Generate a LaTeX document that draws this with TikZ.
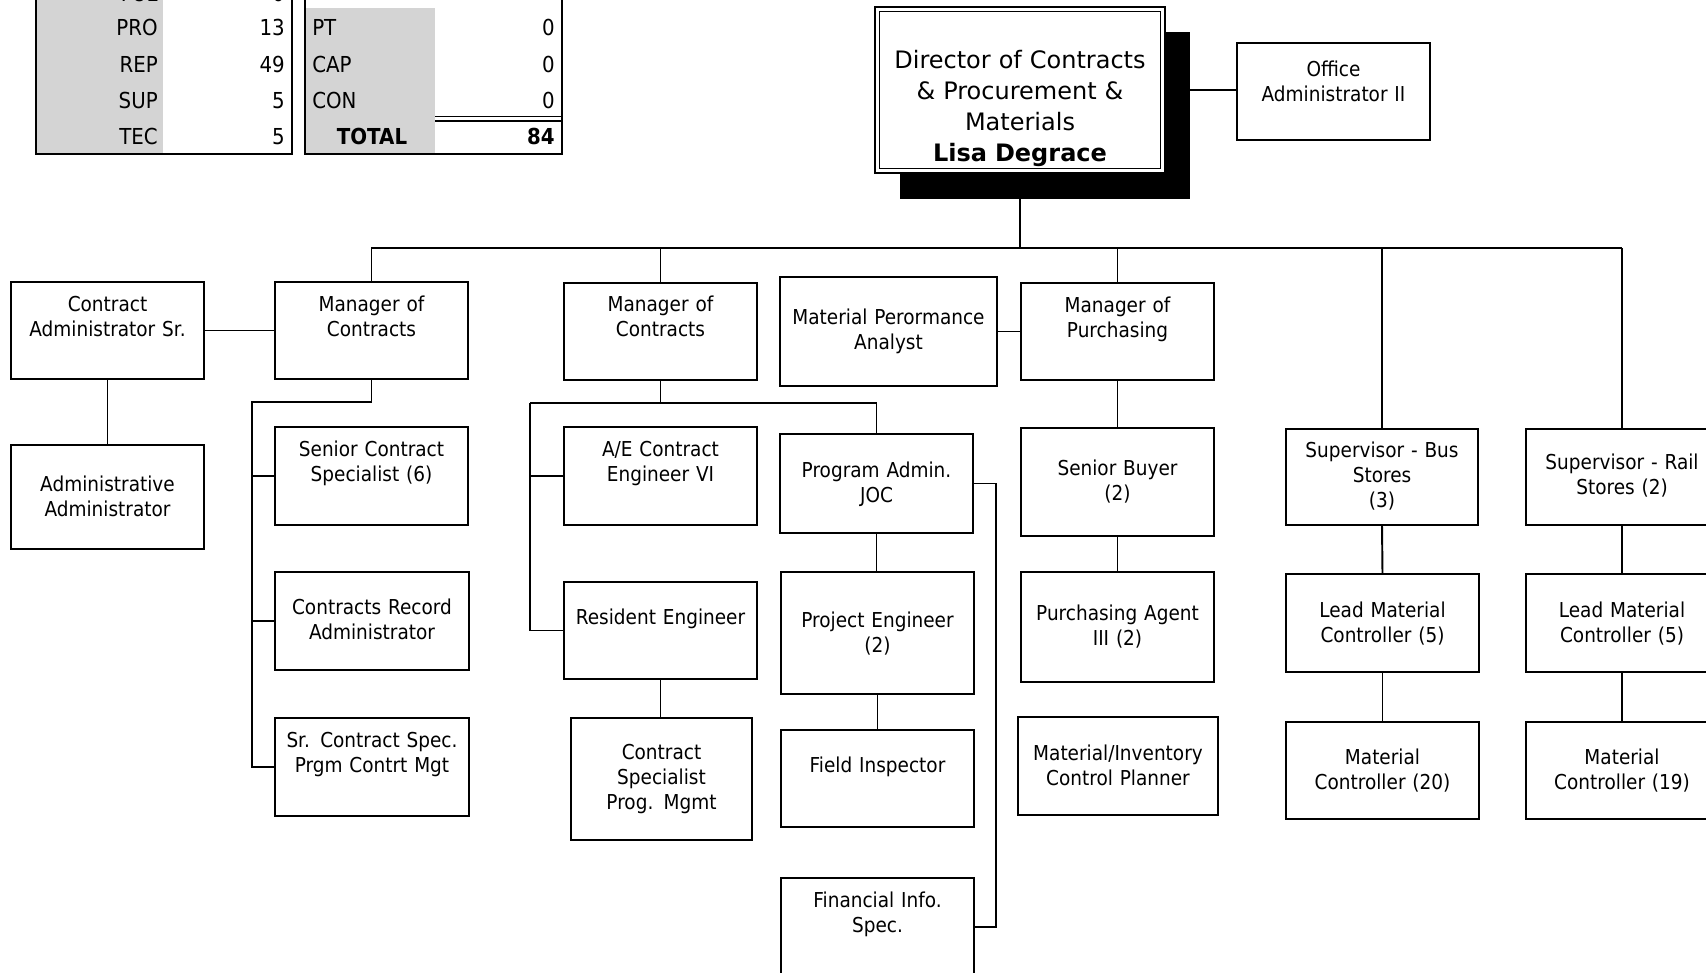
\documentclass[tikz,border=0pt]{standalone}
\usepackage{fontspec}
\setmainfont{DejaVu Sans}
\newfontfamily\boxfont[FakeStretch=0.9]{DejaVu Sans}
\usetikzlibrary{fit}

\tikzset{
  jobbox/.style={draw=black, line width=1.45pt, fill=white, inner sep=0pt, outer sep=0pt},
  joblabel/.style={font={\boxfont\fontsize{15.4pt}{18.75pt}\selectfont}, align=center,
                   text width=200pt, inner sep=0pt, anchor=base},
  wire/.style={draw=black, line width=1.45pt},
  tableframe/.style={draw=black, line width=1.6pt, inner sep=0pt, outer sep=0pt},
  tablecell/.style={fill=black!17, draw=none, inner sep=0pt, outer sep=0pt},
  tabtext/.style={font={\boxfont\fontsize{16.5pt}{20pt}\selectfont}, inner sep=0pt},
  headlabel/.style={font={\fontsize{18pt}{23.25pt}\selectfont}, align=center,
                    text width=210pt, inner sep=0pt, anchor=base},
}

% box from (x1,y1) to (x2,y2) with its label, first line centred at y
\newcommand\orgbox[7]{%
  \node[jobbox, fit={(#2,#3) (#4,#5)}] (#1) {};
  \node[joblabel] (#1-t) at ({(#2+#4)/2},{#6+7}) {#7};
}

\begin{document}
\begin{tikzpicture}[x=0.75pt, y=-0.75pt]
\useasboundingbox (0,0) rectangle (1706,973);
\fill[white] (0,0) rectangle (1706,973);
\clip (0,0) rectangle (1706,973);

% ---------- head-count tables ----------
\node[tablecell, fit={(36,-20) (163,154)}] (lgrey) {};
\node[tableframe, fit={(36,-20) (292,154)}] (ltab) {};
\node[tablecell, fit={(305,8) (435,154)}] (rgrey) {};
\node[tableframe, fit={(305,-20) (562,154)}] (rtab) {};
\draw[line width=1pt] (rgrey.east |- 0,116.5) coordinate (dl1) -- (rtab.east |- dl1);
\draw[line width=1pt] (rgrey.east |- 0,121) coordinate (dl2) -- (rtab.east |- dl2);

\node[tabtext, anchor=base east] (lFUL) at (158,2) {FUL};
\node[tabtext, anchor=base east] (nFUL) at (285,2) {0};
\node[tabtext, anchor=base east] (lPRO) at (158,36) {PRO};
\node[tabtext, anchor=base east] (nPRO) at (285,36) {13};
\node[tabtext, anchor=base east] (lREP) at (158,73) {REP};
\node[tabtext, anchor=base east] (nREP) at (285,73) {49};
\node[tabtext, anchor=base east] (lSUP) at (158,109) {SUP};
\node[tabtext, anchor=base east] (nSUP) at (285,109) {5};
\node[tabtext, anchor=base east] (lTEC) at (158,145) {TEC};
\node[tabtext, anchor=base east] (nTEC) at (285,145) {5};

\node[tabtext, anchor=base west] (lPT) at (312,36) {PT};
\node[tabtext, anchor=base east] (nPT) at (555,36) {0};
\node[tabtext, anchor=base west] (lCAP) at (312,73) {CAP};
\node[tabtext, anchor=base east] (nCAP) at (555,73) {0};
\node[tabtext, anchor=base west] (lCON) at (312,109) {CON};
\node[tabtext, anchor=base east] (nCON) at (555,109) {0};
\node[tabtext, anchor=base] (lTOT) at (372,145) {\bfseries TOTAL};
\node[tabtext, anchor=base east] (nTOT) at (555,145) {\bfseries 84};

% ---------- director ----------
\coordinate (bus) at (371,248);
\coordinate (busend) at (1622,248);
\draw[wire] (1020,173) coordinate (dirfoot) -- (dirfoot |- bus);
\node[fill=black, inner sep=0pt, fit={(900,32) (1190,199)}] (dirshadow) {};
\node[draw=black, line width=1.1pt, fill=white, inner sep=0pt, fit={(875,7) (1165,173)}] (dir) {};
\node[draw=black, line width=1.1pt, inner sep=0pt, fit={(879.5,11.5) (1160.5,168.5)}] (dirinner) {};
\node[headlabel] (dir-t) at (1020,68.5)
  {Director of Contracts\\\& Procurement \&\\Materials\\\textbf{Lisa Degrace}};

\orgbox{office}{1237}{43}{1430}{140}{70}{Office\\Administrator II}

% ---------- first level ----------
\orgbox{cas}{11}{282}{204}{379}{305}{Contract\\Administrator Sr.}
\orgbox{adm}{11}{445}{204}{549}{484}{Administrative\\Administrator}
\orgbox{mgr1}{275}{282}{468}{379}{305}{Manager of\\Contracts}
\orgbox{mgr2}{564}{283}{757}{380}{305}{Manager of\\Contracts}
\orgbox{mpa}{780}{277}{997}{386}{318}{Material Perormance\\Analyst}
\orgbox{mgrp}{1021}{283}{1214}{380}{306}{Manager of\\Purchasing}
\orgbox{supbus}{1286}{429}{1478}{525}{450}{Supervisor - Bus\\Stores\\(3)}
\orgbox{suprail}{1526}{429}{1718}{525}{462}{Supervisor - Rail\\Stores (2)}

% ---------- contracts (left) ----------
\orgbox{scs}{275}{427}{468}{525}{449}{Senior Contract\\Specialist (6)}
\orgbox{crec}{275}{572}{469}{670}{607}{Contracts Record\\Administrator}
\orgbox{srcs}{275}{718}{469}{816}{740}{Sr. Contract Spec.\\Prgm Contrt Mgt}

% ---------- contracts (centre) ----------
\orgbox{ae}{564}{427}{757}{525}{449}{A/E Contract\\Engineer VI}
\orgbox{reseng}{564}{582}{757}{679}{617}{Resident Engineer}
\orgbox{csprog}{571}{718}{752}{840}{752}{Contract\\Specialist\\Prog. Mgmt}
\orgbox{pajoc}{780}{434}{973}{533}{470}{Program Admin.\\JOC}
\orgbox{projeng}{781}{572}{974}{694}{620}{Project Engineer\\(2)}
\orgbox{field}{781}{730}{974}{827}{765}{Field Inspector}
\orgbox{fin}{781}{878}{974}{976}{900}{Financial Info.\\Spec.}

% ---------- purchasing ----------
\orgbox{sbuy}{1021}{428}{1214}{536}{468}{Senior Buyer\\(2)}
\orgbox{pa3}{1021}{572}{1214}{682}{613}{Purchasing Agent\\III (2)}
\orgbox{mic}{1018}{717}{1218}{815}{753}{Material/Inventory\\Control Planner}

% ---------- stores ----------
\orgbox{lead1}{1286}{574}{1479}{672}{610}{Lead Material\\Controller (5)}
\orgbox{mc20}{1286}{722}{1479}{819}{757}{Material\\Controller (20)}
\orgbox{lead2}{1526}{574}{1718}{672}{610}{Lead Material\\Controller (5)}
\orgbox{mc19}{1526}{722}{1718}{819}{757}{Material\\Controller (19)}

% ---------- connectors ----------
\draw[wire] (dir.east) -- (dir.east -| office.west);
\draw[wire] (bus) -- (busend);
\draw[wire] (mgr1.north) -- (mgr1.north |- bus);
\draw[wire] (mgr2.north) -- (mgr2.north |- bus);
\draw[wire] (mgrp.north) -- (mgrp.north |- bus);
\draw[wire] (supbus.north) -- (supbus.north |- bus);
\draw[wire] (suprail.north) -- (suprail.north |- bus);

\draw[wire] (cas.east) -- (mgr1.west);
\draw[wire] (cas.south) -- (adm.north);
\draw[wire] (mpa.east) -- (mpa.east -| mgrp.west);

% manager of contracts, left branch
\coordinate (m1bus) at (252,402);
\draw[wire] (mgr1.south) |- (m1bus) |- (srcs.west);
\draw[wire] (m1bus |- scs.west) -- (scs.west);
\draw[wire] (m1bus |- crec.west) -- (crec.west);

% manager of contracts, centre branch
\coordinate (m2bus) at (530,403);
\draw[wire] (mgr2.south) -- (mgr2.south |- m2bus);
\draw[wire] (m2bus) -| (pajoc.north);
\draw[wire] (m2bus) |- (reseng.west);
\draw[wire] (m2bus |- ae.west) -- (ae.west);
\draw[wire] (reseng.south) -- (reseng.south |- csprog.north);
\draw[wire] (pajoc.south) -- (pajoc.south |- projeng.north);
\draw[wire] (projeng.south) -- (field.north);
\coordinate (pajx) at (996,483.5);
\draw[wire] (pajoc.east) -- (pajoc.east -| pajx) |- (fin.east);

% purchasing and stores chains
\draw[wire] (mgrp.south) -- (sbuy.north);
\draw[wire] (sbuy.south) -- (pa3.north);
\draw[wire] (supbus.south) -- (lead1.north);
\draw[wire] (lead1.south) -- (mc20.north);
\draw[wire] (suprail.south) -- (lead2.north);
\draw[wire] (lead2.south) -- (mc19.north);
\end{tikzpicture}
\end{document}
